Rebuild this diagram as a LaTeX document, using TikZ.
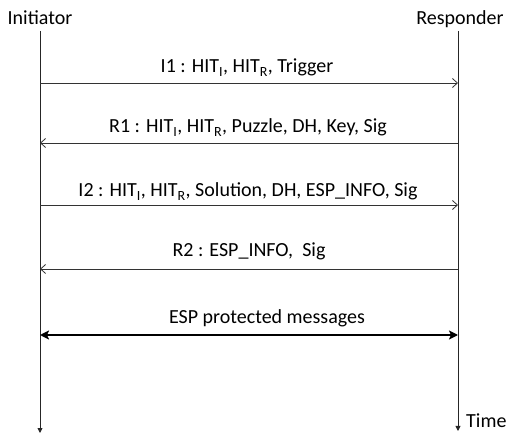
\documentclass[tikz,border=0pt]{standalone}
\usepackage{fontspec}
\setmainfont{Carlito}
\usetikzlibrary{arrows.meta}
\begin{document}
\begin{tikzpicture}[x=1pt,y=-1pt,
  party/.style={font=\fontsize{20}{24}\selectfont, inner sep=0pt, anchor=base},
  msglabel/.style={font=\fontsize{20}{24}\selectfont, inner sep=0pt, anchor=base},
  lifeline/.style={draw=black!85, line width=0.9pt, -{Triangle[length=5pt,width=5pt]}},
  msg/.style={draw=black!80, line width=0.8pt, -{Straight Barb[length=5pt,width=9pt,line width=0.8pt]}},
  secure/.style={draw=black, line width=2pt, {Stealth[length=9pt,width=9pt,inset=2pt]}-{Stealth[length=9pt,width=9pt,inset=2pt]}}]
  \useasboundingbox (0,0) rectangle (507,433);

  % participants
  \node[party] (ini) at (40,25) {Initiator};
  \node[party] (res) at (460,25) {Responder};

  % lifelines
  \coordinate (iTop) at (40,31);
  \coordinate (iEnd) at (40,433);
  \coordinate (rTop) at (458,31);
  \coordinate (rEnd) at (458,431);
  \draw[lifeline] (iTop) -- (iEnd);
  \draw[lifeline] (rTop) -- (rEnd);
  \node[msglabel, anchor=base west] (time) at (466,428) {Time};

  % message anchors on the lifelines
  \foreach \n/\y in {a/83, b/143, c/205, d/269, e/335} {
    \coordinate (i\n) at (40,\y);
    \coordinate (r\n) at (458,\y);
  }

  % messages
  \draw[msg] (ia) -- (ra);
  \node[msglabel] (m1) at (247,73) {I1 : HIT\textsubscript{I}, HIT\textsubscript{R}, Trigger};

  \draw[msg] (rb) -- (ib);
  \node[msglabel] (m2) at (248,133) {R1 : HIT\textsubscript{I}, HIT\textsubscript{R}, Puzzle, DH, Key, Sig};

  \draw[msg] (ic) -- (rc);
  \node[msglabel] (m3) at (248,197) {I2 : HIT\textsubscript{I}, HIT\textsubscript{R}, Solution, DH, ESP\_INFO, Sig};

  \draw[msg] (rd) -- (id);
  \node[msglabel] (m4) at (249,257) {R2 : ESP\_INFO,\ \ Sig};

  \draw[secure] (ie) -- (re);
  \node[msglabel] (m5) at (267,324) {ESP protected messages};
\end{tikzpicture}
\end{document}
